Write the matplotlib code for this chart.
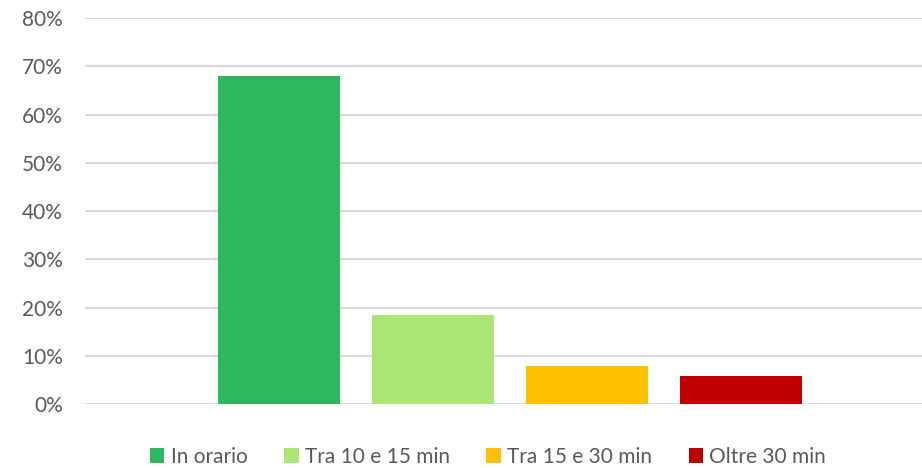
import matplotlib
matplotlib.use("Agg")
import matplotlib.pyplot as plt
from matplotlib.ticker import PercentFormatter

categories = ["In orario", "Tra 10 e 15 min", "Tra 15 e 30 min", "Oltre 30 min"]
values = [0.680, 0.185, 0.078, 0.057]
colors = ["#2DB85D", "#ABE573", "#FFC000", "#C00000"]
y_ticks = [0.0, 0.1, 0.2, 0.3, 0.4, 0.5, 0.6, 0.7, 0.8]

plt.rcParams["font.family"] = ["Lato", "DejaVu Sans"]

fig = plt.figure(figsize=(9.22, 4.68), dpi=100)
ax = fig.add_axes([85 / 922, 1 - 404 / 468, 1 - 85 / 922, (404 - 18) / 468])

for i, (cat, val, col) in enumerate(zip(categories, values, colors)):
    ax.bar(i, val, width=0.79, color=col, label=cat, zorder=3)

ax.set_ylim(0, 0.8)
ax.set_xlim(-1.26, 4.175)
ax.set_yticks(y_ticks)
ax.yaxis.set_major_formatter(PercentFormatter(1.0, decimals=0))
ax.grid(axis="y", color="#D9D9D9", linewidth=1.5, zorder=0)
ax.set_xticks([])
for s in ax.spines.values():
    s.set_visible(False)
ax.tick_params(axis="y", length=0, pad=16, labelsize=15, labelcolor="#595959")

fig.legend(loc="center", bbox_to_anchor=(488 / 922, 1 - 457 / 468), ncol=4,
           frameon=False, fontsize=15, labelcolor="#595959",
           handlelength=0.7, handleheight=0.7, handletextpad=0.3,
           columnspacing=1.75, borderaxespad=0)

fig.savefig("out.png", dpi=100)
